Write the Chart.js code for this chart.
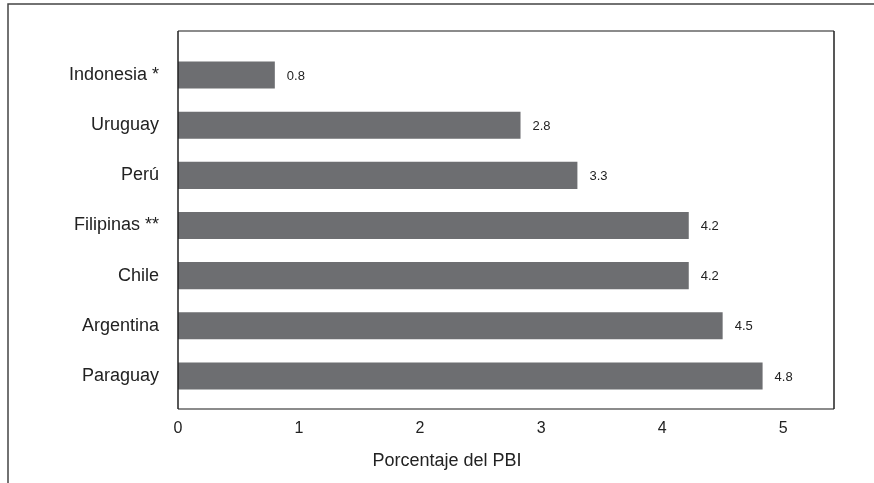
<!DOCTYPE html>
<html>
<head>
<meta charset="utf-8">
<script src="https://cdn.jsdelivr.net/npm/chart.js@4/dist/chart.umd.min.js"></script>
<style>
  html, body { margin: 0; padding: 0; background: #fff; }
  #wrap { width: 874px; height: 483px; position: relative; }
</style>
</head>
<body>
<div id="wrap"><canvas id="pbi-chart"></canvas></div>
<script>
// data
const countries = ['Indonesia *', 'Uruguay', 'Perú', 'Filipinas **', 'Chile', 'Argentina', 'Paraguay'];
const pctPBI = [0.8, 2.83, 3.3, 4.22, 4.22, 4.5, 4.83];
const xTicks = [0, 1, 2, 3, 4, 5];
const axisTitle = 'Porcentaje del PBI';

const barColor = '#6d6e71';
const textColor = '#222';
const fontFam = '"Liberation Sans", Arial, sans-serif';

// outer frame + plot box + value labels + axis title
const decor = {
  id: 'decor',
  beforeDraw(chart) {
    const c = chart.ctx;
    c.save();
    c.fillStyle = '#fff';
    c.fillRect(0, 0, chart.width, chart.height);
    c.strokeStyle = '#444';
    c.lineWidth = 1.5;
    c.beginPath();
    c.moveTo(8, chart.height);
    c.lineTo(8, 4);
    c.lineTo(chart.width, 4);
    c.stroke();
    c.restore();
  },
  afterDatasetsDraw(chart) {
    const c = chart.ctx, a = chart.chartArea;
    c.save();
    // plot box, a bit taller than the category band
    const top = a.top - 19, bot = a.bottom + 8;
    c.lineWidth = 1.5;
    c.strokeStyle = '#666';
    c.beginPath();
    c.moveTo(a.left, top); c.lineTo(a.right, top);
    c.moveTo(a.left, bot); c.lineTo(a.right, bot);
    c.stroke();
    c.strokeStyle = '#222';
    c.beginPath();
    c.moveTo(a.left, top); c.lineTo(a.left, bot);
    c.moveTo(a.right, top); c.lineTo(a.right, bot);
    c.stroke();

    // value labels
    c.font = '13px ' + fontFam;
    c.fillStyle = textColor;
    c.textBaseline = 'middle';
    c.textAlign = 'left';
    chart.getDatasetMeta(0).data.forEach((bar, i) => {
      c.fillText(pctPBI[i].toFixed(1), bar.x + 12, bar.y + 1);
    });

    // axis title
    c.font = '18px ' + fontFam;
    c.textAlign = 'center';
    c.fillText(axisTitle, a.left + (a.right - a.left) * 0.41, 461);
    c.restore();
  }
};

new Chart(document.getElementById('pbi-chart'), {
  type: 'bar',
  data: {
    labels: countries,
    datasets: [{
      data: pctPBI,
      backgroundColor: barColor,
      borderWidth: 0,
      barPercentage: 0.54,
      categoryPercentage: 1
    }]
  },
  options: {
    indexAxis: 'y',
    responsive: true,
    maintainAspectRatio: false,
    animation: false,
    layout: { padding: { top: 50, right: 40, bottom: 0, left: 0 } },
    plugins: {
      legend: { display: false },
      tooltip: { enabled: false }
    },
    scales: {
      x: {
        min: 0,
        max: 5.42,
        grid: { display: false, drawTicks: false },
        border: { display: false },
        afterBuildTicks(s) {
          s.ticks = xTicks.map(v => ({ value: v }));
        },
        afterFit(s) { s.height = 82; },
        ticks: {
          padding: 18,
          color: textColor,
          font: { family: fontFam, size: 16 }
        }
      },
      y: {
        grid: { display: false, drawTicks: false },
        border: { display: false },
        afterFit(s) { s.width = 178; },
        ticks: {
          padding: 19,
          color: textColor,
          font: { family: fontFam, size: 18 }
        }
      }
    }
  },
  plugins: [decor]
});
</script>
</body>
</html>
